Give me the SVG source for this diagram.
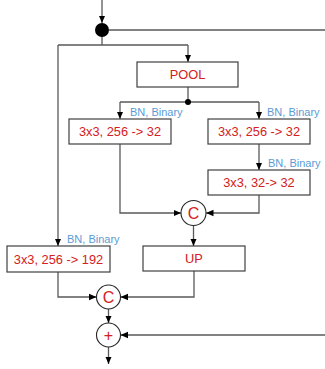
<svg xmlns="http://www.w3.org/2000/svg" width="325" height="369" viewBox="0 0 325 369">
<style>
.ln{fill:none;stroke:#595959;stroke-width:1.3}
.ar{marker-end:url(#ah)}
.box{fill:#fff;stroke:#404040;stroke-width:1.2}
.circ{fill:#fff;stroke:#262626;stroke-width:1.1}
.lbl{font-family:"Liberation Sans",Arial,sans-serif;font-size:12.8px;fill:#d42020;text-anchor:middle}
.op{font-family:"Liberation Sans",Arial,sans-serif;font-size:16px;fill:#d42020;text-anchor:middle}
.bn{font-family:"Liberation Sans",Arial,sans-serif;font-size:11px;fill:#5b9bd5}
</style>
<defs>
<marker id="ah" markerUnits="userSpaceOnUse" markerWidth="8" markerHeight="8" viewBox="0 0 8 8" refX="7.5" refY="4" orient="auto">
<path d="M0,0.8 L7.5,4 L0,7.2 Z" fill="#000"/>
</marker>
</defs>
<g id="connectors">
<path class="ln ar" d="M102,0 V23"/>
<path class="ln" d="M109,30 H325"/>
<path class="ln" d="M102,30 V45"/>
<path class="ln" d="M58,45 H188"/>
<path class="ln ar" d="M188,45 V62"/>
<path class="ln ar" d="M58,45 V246"/>
<path class="ln" d="M188,87 V102"/>
<path class="ln" d="M120,102 H259"/>
<path class="ln ar" d="M120,102 V119"/>
<path class="ln ar" d="M259,102 V119"/>
<path class="ln ar" d="M259,144 V170"/>
<path class="ln ar" d="M120,144 V213 H181"/>
<path class="ln ar" d="M259,195 V213 H206"/>
<path class="ln ar" d="M193.5,225.5 V246"/>
<path class="ln ar" d="M58,272 V297 H96.5"/>
<path class="ln ar" d="M194,271 V297 H120.5"/>
<path class="ln ar" d="M108.5,309 V323"/>
<path class="ln ar" d="M325,335 H120.5"/>
<path class="ln ar" d="M108.5,347 V364"/>
<circle cx="102" cy="30" r="7" fill="#000"/>
<circle cx="188" cy="102" r="3" fill="#000"/>
</g>
<g id="pool">
<rect class="box" x="137" y="62" width="101" height="25"/>
<text class="lbl" x="187.5" y="79">POOL</text>
</g>
<g id="conv-left">
<text class="bn" x="130" y="116">BN, Binary</text>
<rect class="box" x="69" y="119" width="102" height="25"/>
<text class="lbl" x="120" y="136">3x3, 256 -&gt; 32</text>
</g>
<g id="conv-right">
<text class="bn" x="267" y="116">BN, Binary</text>
<rect class="box" x="208" y="119" width="102" height="25"/>
<text class="lbl" x="259" y="136">3x3, 256 -&gt; 32</text>
</g>
<g id="conv-right2">
<text class="bn" x="268" y="167">BN, Binary</text>
<rect class="box" x="208" y="170" width="102" height="25"/>
<text class="lbl" x="259" y="187">3x3, 32-&gt; 32</text>
</g>
<g id="concat1">
<circle class="circ" cx="193.5" cy="213" r="12.5"/>
<text class="op" x="193.5" y="218.8">C</text>
</g>
<g id="up">
<rect class="box" x="143" y="246" width="102" height="25"/>
<text class="lbl" x="194" y="263">UP</text>
</g>
<g id="conv-skip">
<text class="bn" x="67" y="243">BN, Binary</text>
<rect class="box" x="7" y="246" width="103" height="26"/>
<text class="lbl" x="58.5" y="263.5">3x3, 256 -&gt; 192</text>
</g>
<g id="concat2">
<circle class="circ" cx="108.5" cy="297" r="12"/>
<text class="op" x="108.5" y="302.8">C</text>
</g>
<g id="add">
<circle class="circ" cx="108.5" cy="335" r="12"/>
<text class="op" x="108.5" y="340.8">+</text>
</g>
</svg>
